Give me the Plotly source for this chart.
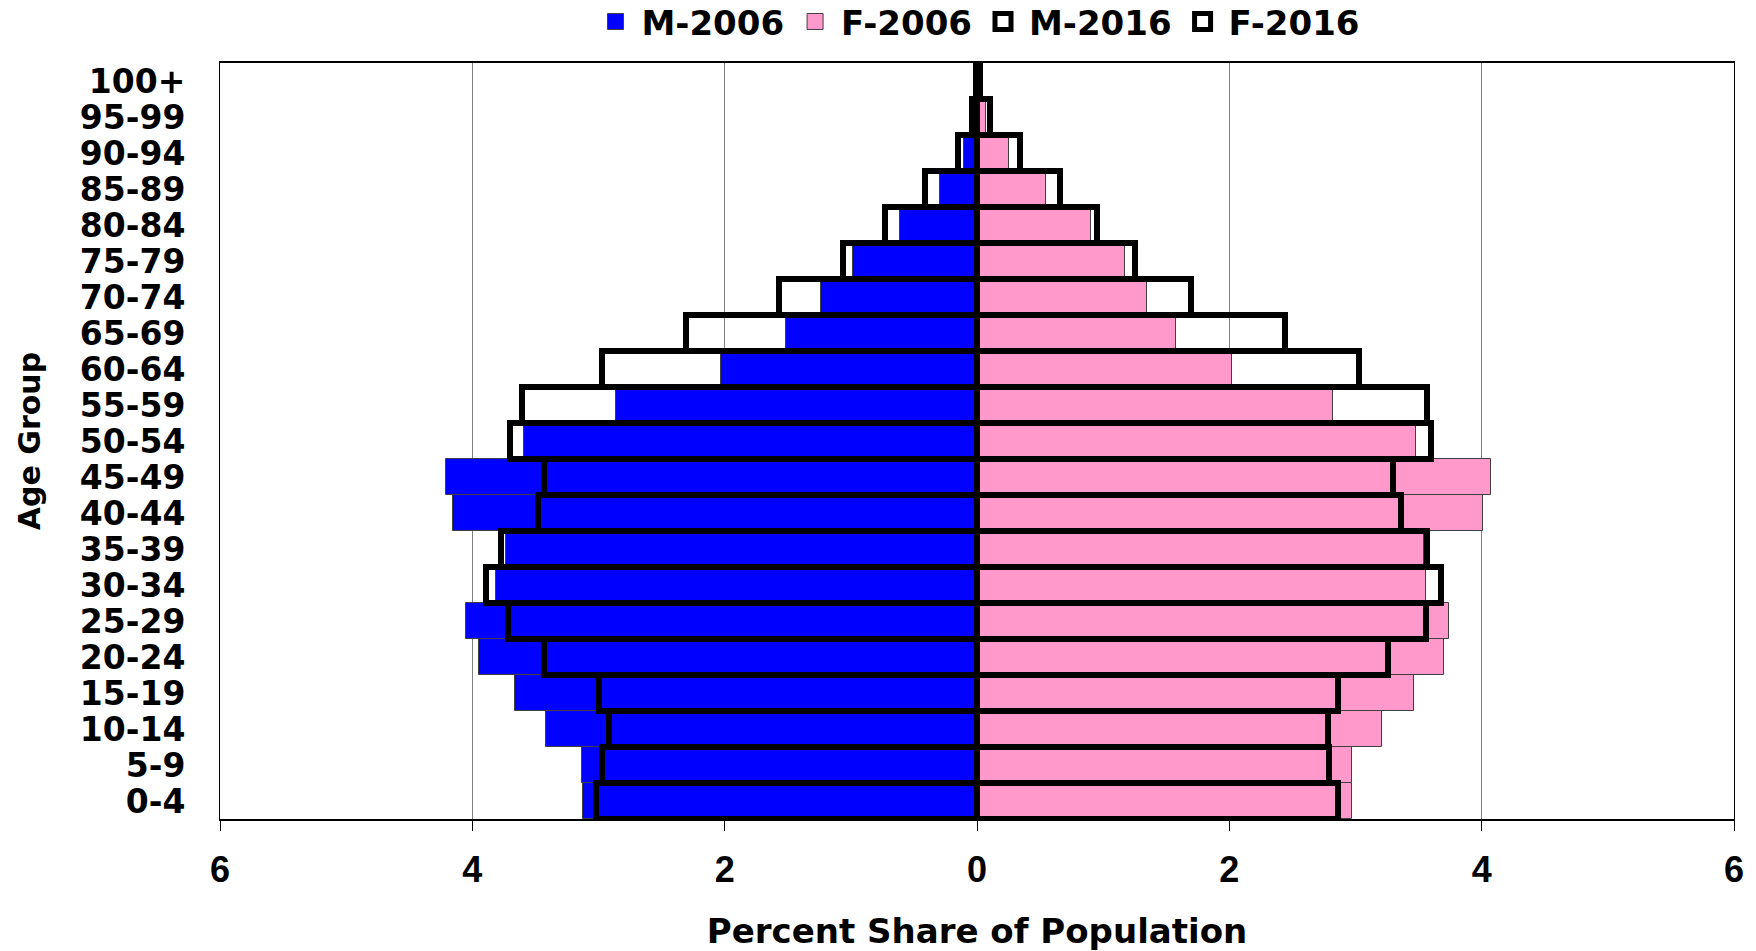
import plotly.graph_objects as go

age_groups = ["0-4", "5-9", "10-14", "15-19", "20-24", "25-29", "30-34", "35-39",
              "40-44", "45-49", "50-54", "55-59", "60-64", "65-69", "70-74", "75-79",
              "80-84", "85-89", "90-94", "95-99", "100+"]

m_2006 = [3.12, 3.13, 3.42, 3.66, 3.95, 4.05, 3.81, 3.73, 4.15, 4.21, 3.59, 2.86,
          2.03, 1.51, 1.24, 0.98, 0.61, 0.29, 0.10, 0.03, 0.01]
f_2006 = [2.97, 2.97, 3.21, 3.46, 3.70, 3.74, 3.56, 3.54, 4.01, 4.07, 3.48, 2.82,
          2.02, 1.58, 1.35, 1.17, 0.90, 0.55, 0.25, 0.07, 0.01]
m_2016 = [3.02, 2.97, 2.92, 3.00, 3.43, 3.72, 3.89, 3.77, 3.48, 3.43, 3.70, 3.61,
          2.97, 2.31, 1.57, 1.06, 0.73, 0.41, 0.15, 0.04, 0.01]
f_2016 = [2.86, 2.79, 2.78, 2.86, 3.26, 3.56, 3.68, 3.57, 3.36, 3.30, 3.60, 3.57,
          3.03, 2.44, 1.70, 1.25, 0.95, 0.66, 0.34, 0.10, 0.02]

x_ticks = [-6, -4, -2, 0, 2, 4, 6]
x_tick_labels = ["6", "4", "2", "0", "2", "4", "6"]

BLUE = "#0000FF"
PINK = "#FF99CC"
FONT = "DejaVu Sans"

fig = go.Figure()

fig.add_trace(go.Bar(y=age_groups, x=[-v for v in m_2006], orientation="h", name="M-2006",
                     marker=dict(color=BLUE, line=dict(color="#404040", width=1)),
                     showlegend=False))
fig.add_trace(go.Bar(y=age_groups, x=f_2006, orientation="h", name="F-2006",
                     marker=dict(color=PINK, line=dict(color="#404040", width=1)),
                     showlegend=False))
fig.add_trace(go.Bar(y=age_groups, x=[-v for v in m_2016], orientation="h", name="M-2016",
                     marker=dict(color="rgba(0,0,0,0)", line=dict(color="black", width=6)),
                     showlegend=False))
fig.add_trace(go.Bar(y=age_groups, x=f_2016, orientation="h", name="F-2016",
                     marker=dict(color="rgba(0,0,0,0)", line=dict(color="black", width=6)),
                     showlegend=False))

# legend entries (large square symbols)
legend_styles = [("M-2006", BLUE, "#404040", 1),
                 ("F-2006", PINK, "#404040", 1),
                 ("M-2016", "white", "black", 5),
                 ("F-2016", "white", "black", 5)]
for name, fill, lc, lw in legend_styles:
    fig.add_trace(go.Scatter(x=[None], y=[None], mode="markers", name=name,
                             marker=dict(symbol="square", size=16, color=fill,
                                         line=dict(color=lc, width=lw)),
                             showlegend=True))

fig.update_layout(
    width=1756, height=951,
    barmode="overlay", bargap=0,
    plot_bgcolor="white", paper_bgcolor="white",
    margin=dict(l=220, r=22, t=63, b=132, autoexpand=False),
    font=dict(family=FONT, color="black", weight="bold"),
    legend=dict(orientation="h", x=0.5, xanchor="center", yref="container",
                y=0.977, yanchor="middle",
                font=dict(family=FONT, size=34, color="black", weight="bold"),
                itemwidth=42, bgcolor="rgba(0,0,0,0)"),
    xaxis=dict(range=[-6, 6], tickvals=x_ticks, ticktext=x_tick_labels,
               showgrid=True, gridcolor="#808080", gridwidth=1,
               zeroline=False, showline=True, linecolor="black", linewidth=2,
               mirror=True, ticks="outside", ticklen=10, tickcolor="black",
               ticklabelstandoff=8, automargin=False,
               tickfont=dict(family="Liberation Sans", size=36, weight="bold"),
               title=dict(text="Percent Share of Population", standoff=49,
                          font=dict(family=FONT, size=34, weight="bold"))),
    yaxis=dict(type="category", categoryorder="array", categoryarray=age_groups,
               tickmode="array", tickvals=age_groups, ticktext=age_groups,
               showgrid=False, zeroline=False, showline=True, linecolor="black",
               linewidth=1, mirror=True, ticks="", ticklabelstandoff=27,
               automargin=False,
               tickfont=dict(family=FONT, size=33, weight="bold"),
               title=dict(text="Age Group", standoff=30,
                          font=dict(family=FONT, size=30, weight="bold"))),
)

fig.write_html("out.html", config={"displayModeBar": False},
               post_script="document.body.style.margin='0px';")
